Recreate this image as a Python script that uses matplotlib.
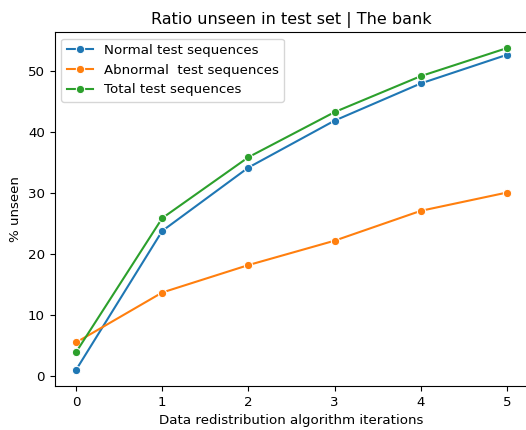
import matplotlib
matplotlib.use("Agg")
import matplotlib.pyplot as plt

iterations = [0, 1, 2, 3, 4, 5]
normal = [1.0, 23.8, 34.2, 41.9, 48.0, 52.7]
abnormal = [5.5, 13.7, 18.2, 22.2, 27.1, 30.1]
total = [3.9, 25.9, 35.9, 43.3, 49.2, 53.8]
labels = ["Normal test sequences", "Abnormal  test sequences", "Total test sequences"]
colors = ["#1f77b4", "#ff7f0e", "#2ca02c"]

plt.rcParams["font.size"] = 9.6

fig = plt.figure(figsize=(5.26, 4.30), dpi=100)
ax = fig.add_axes([54.5 / 526, 44 / 430, 474 / 526, 354 / 430])

for series, label, color in zip([normal, abnormal, total], labels, colors):
    ax.plot(iterations, series, marker="o", color=color, label=label,
            markersize=6, markeredgecolor="white", markeredgewidth=0.75,
            linewidth=1.5)

ax.set_title("Ratio unseen in test set | The bank", fontsize=11.5)
ax.set_xlabel("Data redistribution algorithm iterations")
ax.set_ylabel("% unseen")
ax.legend(loc="upper left")

fig.savefig("out.png", dpi=100)
